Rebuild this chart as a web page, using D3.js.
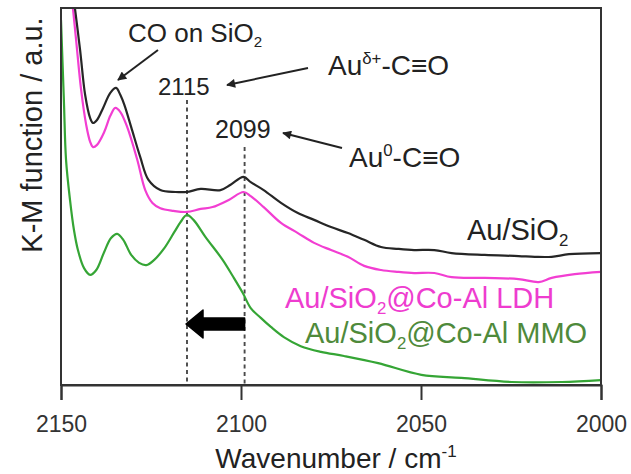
<!DOCTYPE html>
<html>
<head>
<meta charset="utf-8">
<script src="https://cdn.jsdelivr.net/npm/d3@7"></script>
<style>
  body { margin: 0; background: #fff; }
  text { font-family: "Liberation Sans", Arial, sans-serif; }
</style>
</head>
<body>
<div id="chart-area"></div>
<script>
const MARGIN = { LEFT: 61, RIGHT: 30, TOP: 8, BOTTOM: 89 };
const WIDTH = 631 - MARGIN.LEFT - MARGIN.RIGHT;
const HEIGHT = 474 - MARGIN.TOP - MARGIN.BOTTOM;

// spectra (wavenumber in cm-1, K-M in arbitrary units)
const wnSiO2 = [2146.4, 2144.7, 2143.3, 2141.9, 2141.1, 2140.0, 2138.3, 2136.3, 2134.7, 2133.5, 2132.4, 2130.5, 2128.0, 2125.7, 2122.4, 2118.2, 2115.1, 2111.2, 2105.7, 2102.9, 2099.3, 2097.3, 2093.7, 2088.9, 2084.2, 2079.7, 2075.0, 2070.3, 2065.8, 2061.1, 2056.3, 2051.9, 2046.3, 2041.5, 2032.3, 2022.9, 2018.4, 2013.7, 2008.9, 2000.0];
const kmSiO2 = [102, 88.9, 77.0, 70.8, 69.5, 70.3, 73.5, 77.5, 78.8, 76.9, 74.3, 68.4, 60.5, 54.4, 51.7, 51.2, 51.2, 52.0, 51.7, 53.1, 55.2, 53.8, 51.7, 48.3, 45.6, 43.8, 41.9, 40.3, 38.5, 36.6, 36.1, 35.8, 35.8, 35.0, 34.5, 34.2, 34.0, 34.0, 34.7, 35.0];

const wnLDH = [2146.9, 2145.8, 2144.4, 2143.0, 2141.9, 2141.1, 2140.0, 2138.0, 2136.3, 2134.9, 2133.5, 2131.6, 2128.8, 2126.6, 2124.6, 2122.4, 2118.8, 2115.1, 2111.2, 2107.9, 2103.4, 2099.3, 2097.3, 2093.7, 2088.9, 2084.2, 2079.7, 2075.0, 2070.3, 2065.8, 2061.1, 2056.3, 2051.9, 2046.3, 2041.5, 2032.3, 2022.9, 2017.3, 2013.7, 2007.3, 2000.0];
const kmLDH = [102, 91.5, 78.2, 69.0, 64.5, 63.1, 63.7, 67.1, 71.4, 73.5, 72.4, 68.4, 59.7, 51.7, 48.3, 46.9, 46.2, 45.9, 46.7, 47.2, 49.1, 51.2, 50.1, 47.2, 43.0, 40.3, 37.7, 35.8, 34.0, 31.6, 30.5, 30.0, 29.7, 29.7, 28.6, 28.4, 28.1, 27.3, 28.4, 29.4, 30.0];

const wnMMO = [2150.0, 2149.2, 2148.6, 2147.5, 2146.4, 2145.3, 2143.6, 2141.9, 2140.2, 2138.0, 2136.1, 2134.4, 2132.7, 2130.5, 2128.3, 2126.3, 2124.1, 2121.3, 2118.5, 2116.8, 2115.1, 2113.2, 2109.9, 2105.1, 2102.3, 2099.5, 2097.3, 2094.5, 2091.7, 2088.1, 2083.4, 2077.8, 2071.4, 2061.9, 2049.9, 2038.8, 2024.8, 2010.9, 2000.0];
const kmMMO = [96.8, 75.6, 59.7, 49.1, 41.1, 35.8, 31.0, 29.2, 30.5, 35.3, 39.0, 40.1, 38.5, 34.5, 32.4, 31.8, 33.2, 36.3, 40.6, 43.2, 45.1, 43.8, 39.3, 33.2, 28.9, 24.4, 20.4, 17.8, 15.4, 12.7, 10.3, 8.8, 7.7, 5.8, 2.7, 1.9, 0.8, 0.8, 1.3];

const xTicks = [2150, 2100, 2050, 2000];
const peaks = [2115, 2099];

const svg = d3
  .select("#chart-area")
  .append("svg")
  .attr("width", WIDTH + MARGIN.LEFT + MARGIN.RIGHT)
  .attr("height", HEIGHT + MARGIN.TOP + MARGIN.BOTTOM);

const g = svg
  .append("g")
  .attr("transform", `translate(${MARGIN.LEFT}, ${MARGIN.TOP})`);

// scales
const x = d3.scaleLinear().domain([2150, 2000]).range([0, WIDTH]);
const y = d3.scaleLinear().domain([0, 100]).range([HEIGHT, 0]);

// clip + arrow marker
const defs = svg.append("defs");
defs.append("clipPath").attr("id", "clip")
  .append("rect").attr("width", WIDTH).attr("height", HEIGHT);
defs.append("marker")
  .attr("id", "head")
  .attr("viewBox", "0 0 10 10")
  .attr("refX", 9).attr("refY", 5)
  .attr("markerWidth", 11).attr("markerHeight", 9)
  .attr("markerUnits", "userSpaceOnUse")
  .attr("orient", "auto")
  .append("path").attr("d", "M0,0 L10,5 L0,10 Z").attr("fill", "#222");

// dashed guide lines at the two peaks
const dashTop = { 2115: 92, 2099: 139 };
g.selectAll(".guide")
  .data(peaks)
  .enter().append("line")
  .attr("class", "guide")
  .attr("x1", (d) => x(d)).attr("x2", (d) => x(d))
  .attr("y1", (d) => dashTop[d]).attr("y2", HEIGHT)
  .attr("stroke", "#4a4a4a")
  .attr("stroke-width", 1.9)
  .attr("stroke-dasharray", "4,3.5");

// spectra
const line = d3.line()
  .x((d) => x(d[0]))
  .y((d) => y(d[1]))
  .curve(d3.curveCatmullRom.alpha(0.5));

const series = [
  { w: wnMMO, v: kmMMO, color: "#35a535" },
  { w: wnLDH, v: kmLDH, color: "#f23ed2" },
  { w: wnSiO2, v: kmSiO2, color: "#262626" },
];
series.forEach((s) => {
  g.append("path")
    .attr("clip-path", "url(#clip)")
    .attr("fill", "none")
    .attr("stroke", s.color)
    .attr("stroke-width", 2.2)
    .attr("stroke-linejoin", "round")
    .attr("d", line(d3.zip(s.w, s.v)));
});

// frame
g.append("rect")
  .attr("width", WIDTH).attr("height", HEIGHT)
  .attr("fill", "none").attr("stroke", "#333").attr("stroke-width", 2);

// x axis
const xAxis = g.append("g")
  .attr("transform", `translate(0, ${HEIGHT})`)
  .call(d3.axisBottom(x).tickValues(xTicks).tickSize(15).tickPadding(16).tickFormat(d3.format("d")));
xAxis.select(".domain").attr("stroke", "#333").attr("stroke-width", 2);
xAxis.selectAll(".tick line").attr("stroke", "#333").attr("stroke-width", 2);
xAxis.selectAll(".tick text")
  .attr("font-size", "23px")
  .attr("font-family", "'Liberation Sans', Arial, sans-serif")
  .attr("fill", "#333");

// axis labels
const xLabel = g.append("text")
  .attr("x", WIDTH / 2 + 5)
  .attr("y", HEIGHT + 83)
  .attr("font-size", "28px")
  .attr("text-anchor", "middle")
  .attr("fill", "#222");
xLabel.append("tspan").text("Wavenumber / cm");
xLabel.append("tspan").attr("font-size", "17px").attr("dy", -11).text("-1");

g.append("text")
  .attr("transform", "rotate(-90)")
  .attr("x", -127)
  .attr("y", -19)
  .attr("font-size", "29px")
  .attr("text-anchor", "middle")
  .attr("fill", "#222")
  .text("K-M function / a.u.");

// helper for labels with sub/superscripts
function label(px, py, parts, size, color) {
  const t = g.append("text")
    .attr("x", px).attr("y", py)
    .attr("font-size", size + "px")
    .attr("fill", color);
  let shift = 0;
  parts.forEach(([txt, kind]) => {
    const sp = t.append("tspan").text(txt);
    let target = 0;
    if (kind === "sub") { sp.attr("font-size", size * 0.58 + "px"); target = size * 0.2; }
    if (kind === "sup") { sp.attr("font-size", size * 0.6 + "px"); target = -size * 0.4; }
    sp.attr("dy", target - shift);
    shift = target;
  });
  return t;
}

label(67, 34, [["CO on SiO", ""], ["2", "sub"]], 26, "#222");
label(97, 87, [["2115", ""]], 24, "#222");
label(154, 130, [["2099", ""]], 25, "#222");
label(267, 67, [["Au", ""], ["δ+", "sup"], ["-C≡O", ""]], 28, "#222");
label(288, 159, [["Au", ""], ["0", "sup"], ["-C≡O", ""]], 28, "#222");
label(406, 232, [["Au/SiO", ""], ["2", "sub"]], 29, "#222");
label(224, 300, [["Au/SiO", ""], ["2", "sub"], ["@Co-Al LDH", ""]], 29, "#ee3ccf");
label(244, 335, [["Au/SiO", ""], ["2", "sub"], ["@Co-Al MMO", ""]], 29, "#4f8a3b");

// pointer arrows
const pointers = [
  [97, 42, 57, 72],
  [247, 60, 166, 77],
  [281, 140, 222, 125],
];
pointers.forEach(([x1, y1, x2, y2]) => {
  g.append("line")
    .attr("x1", x1).attr("y1", y1).attr("x2", x2).attr("y2", y2)
    .attr("stroke", "#222").attr("stroke-width", 2)
    .attr("marker-end", "url(#head)");
});

// block arrow showing the shift from 2099 to 2115
const tip = x(2115) - 1, tail = x(2099), cy = 316;
g.append("path")
  .attr("d", `M${tip},${cy} L${tip + 17},${cy - 14} L${tip + 17},${cy - 6} L${tail},${cy - 6} L${tail},${cy + 6} L${tip + 17},${cy + 6} L${tip + 17},${cy + 14} Z`)
  .attr("fill", "#000")
  .attr("stroke", "#000")
  .attr("stroke-linejoin", "round")
  .attr("stroke-width", 1.5);
</script>
</body>
</html>
